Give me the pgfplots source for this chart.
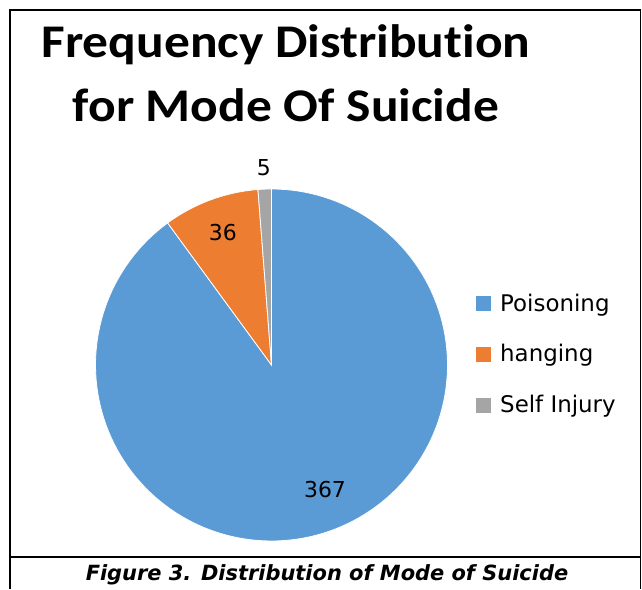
\documentclass[border=0pt]{standalone}
\usepackage{pgfplots}
\pgfplotsset{compat=1.18}
\usepackage{pgfplotstable}
\usepackage{fontspec}
\newfontfamily\titlefont[FakeStretch=1.1,Ligatures=NoCommon]{Carlito}
\newfontfamily\labfont{DejaVu Sans}
\definecolor{pblue}{HTML}{5B9BD5}
\definecolor{porange}{HTML}{ED7D31}
\definecolor{pgray}{HTML}{A5A5A5}

\pgfplotstableread{
mode value
Poisoning 367
hanging 36
SelfInjury 5
}\piedata

\begin{document}
\begin{tikzpicture}[x=1bp,y=1bp]
\pgfplotstablegetelem{0}{value}\of\piedata\let\vA\pgfplotsretval
\pgfplotstablegetelem{1}{value}\of\piedata\let\vB\pgfplotsretval
\pgfplotstablegetelem{2}{value}\of\piedata\let\vC\pgfplotsretval
\pgfmathsetmacro\tot{\vA+\vB+\vC}
\pgfmathsetmacro\aA{90-360*(\vA/\tot)}
\pgfmathsetmacro\aB{\aA-360*(\vB/\tot)}
\pgfmathsetmacro\aC{\aB-360*(\vC/\tot)}
\path (0,0) rectangle (642,589);
% frame
\draw[line width=2bp] (10,0) -- (10,579) -- (641,579);
\draw[line width=1.2bp] (640.4,579) -- (640.4,0);
\draw[line width=2bp] (10,32) -- (641,32);
% title
\node[anchor=base, inner sep=0pt] at (286,531) {\titlefont\bfseries\fontsize{47}{50}\selectfont Frequency Distribution};
\node[anchor=base, inner sep=0pt] at (286,467) {\titlefont\bfseries\fontsize{47}{50}\selectfont for Mode Of Suicide};
% caption
\node[anchor=base, inner sep=0pt] at (327,8) {\labfont\bfseries\itshape\fontsize{21}{24}\selectfont Figure 3. Distribution of Mode of Suicide};
\begin{axis}[at={(271.5bp,224bp)}, anchor=center, scale only axis,
  width=352bp, height=352bp, xmin=-1, xmax=1, ymin=-1, ymax=1,
  hide axis, clip=false]
\addplot[fill=pblue, draw=white, line width=0.8bp, domain=\aA:90, samples=150, variable=\t] ({cos(\t)},{sin(\t)}) -- (0,0) -- cycle;
\addplot[fill=porange, draw=white, line width=0.8bp, domain=\aB:\aA, samples=40, variable=\t] ({cos(\t)},{sin(\t)}) -- (0,0) -- cycle;
\addplot[fill=pgray, draw=white, line width=0.8bp, domain=\aC:\aB, samples=10, variable=\t] ({cos(\t)},{sin(\t)}) -- (0,0) -- cycle;
\node[font=\labfont\fontsize{22}{24}\selectfont] at (axis cs:-0.043,1.119) {\vC};
\node[font=\labfont\fontsize{22}{24}\selectfont] at (axis cs:-0.276,0.750) {\vB};
\node[font=\labfont\fontsize{22}{24}\selectfont] at (axis cs:0.304,-0.710) {\vA};
\end{axis}
% legend
\fill[pblue] (476,277.5) rectangle (491,292.5);
\fill[porange] (476,226.5) rectangle (491,241.5);
\fill[pgray] (476,175.5) rectangle (491,190.5);
\node[anchor=base west, inner sep=0pt] at (500,277.3) {\labfont\fontsize{23}{25}\selectfont Poisoning};
\node[anchor=base west, inner sep=0pt] at (500,227.3) {\labfont\fontsize{23}{25}\selectfont hanging};
\node[anchor=base west, inner sep=0pt] at (500,176.5) {\labfont\fontsize{23}{25}\selectfont Self Injury};
\end{tikzpicture}
\end{document}
